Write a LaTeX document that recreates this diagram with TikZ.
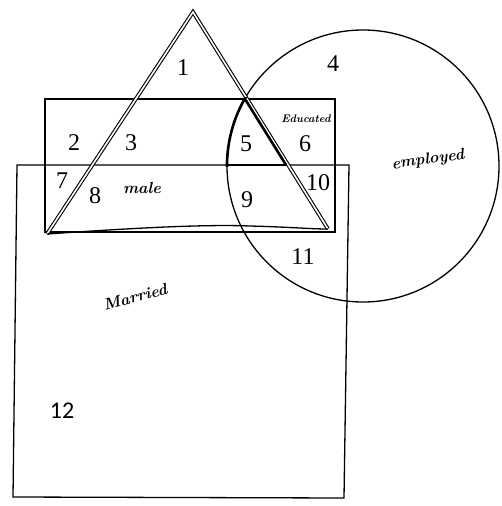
\documentclass[tikz,border=0pt]{standalone}
\usepackage{fontspec}
\newfontfamily\numfont{Liberation Serif}
\newfontfamily\twelvefont{Carlito}
\usetikzlibrary{calc}

\tikzset{
  region/.style={font=\numfont\fontsize{24}{24}\selectfont},
  hand/.style={font=\itshape\bfseries\fontsize{16}{16}\selectfont},
  bold edge/.style={line width=2.6pt}
}

\begin{document}
\begin{tikzpicture}[x=1pt,y=-1pt,line width=1.3pt]
  \useasboundingbox (0,0) rectangle (501,506);

  % Corners of the triangle
  \coordinate (apex) at (193,12);
  \coordinate (botL) at (47,234);
  \coordinate (botR) at (328,229);

  % Educated box and Married box
  \draw (45,99) rectangle (335,232);
  \draw (17,165) -- (349,165) -- (344,498) -- (13,497) -- cycle;

  % Employed circle
  \draw (363,166) circle (136);

  % Triangle: doubled sides and a wavy base
  \draw[double, double distance=1.6pt, line width=1.1pt] (botL) -- (apex) -- (botR);
  \draw (botL) .. controls (120,229) and (200,224) .. (250,226)
        .. controls (290,227) and (310,229) .. (botR);

  % Bold outline round region 5
  \begin{scope}
    \clip (222,97) rectangle (249,166);
    \draw[bold edge] (363,166) circle (136);
  \end{scope}
  \draw[bold edge] (245,99) -- (286,165);
  \draw[bold edge] (228,165) -- (286,165);

  % Region numbers
  \node[region] (r1) at (183,68) {1};
  \node[region] (r2) at (74,143) {2};
  \node[region] (r3) at (131,143) {3};
  \node[region] (r4) at (333,64) {4};
  \node[region] (r5) at (246,144) {5};
  \node[region] (r6) at (305,144) {6};
  \node[region] (r7) at (62,181) {7};
  \node[region] (r8) at (95,196) {8};
  \node[region] (r9) at (247,200) {9};
  \node[region] (r10) at (318,183) {10};
  \node[region] (r11) at (303,257) {11};
  \node[font=\twelvefont\fontsize{24}{24}\selectfont] (r12) at (62,411) {12};

  % Set names
  \node[hand] (male) at (142,188) {male};
  \node[hand, font=\itshape\bfseries\fontsize{11}{11}\selectfont] (educ) at (306,119) {Educated};
  \node[hand, rotate=8] (empl) at (428,160) {employed};
  \node[hand, rotate=15] (marr) at (135,297) {Married};
\end{tikzpicture}
\end{document}
